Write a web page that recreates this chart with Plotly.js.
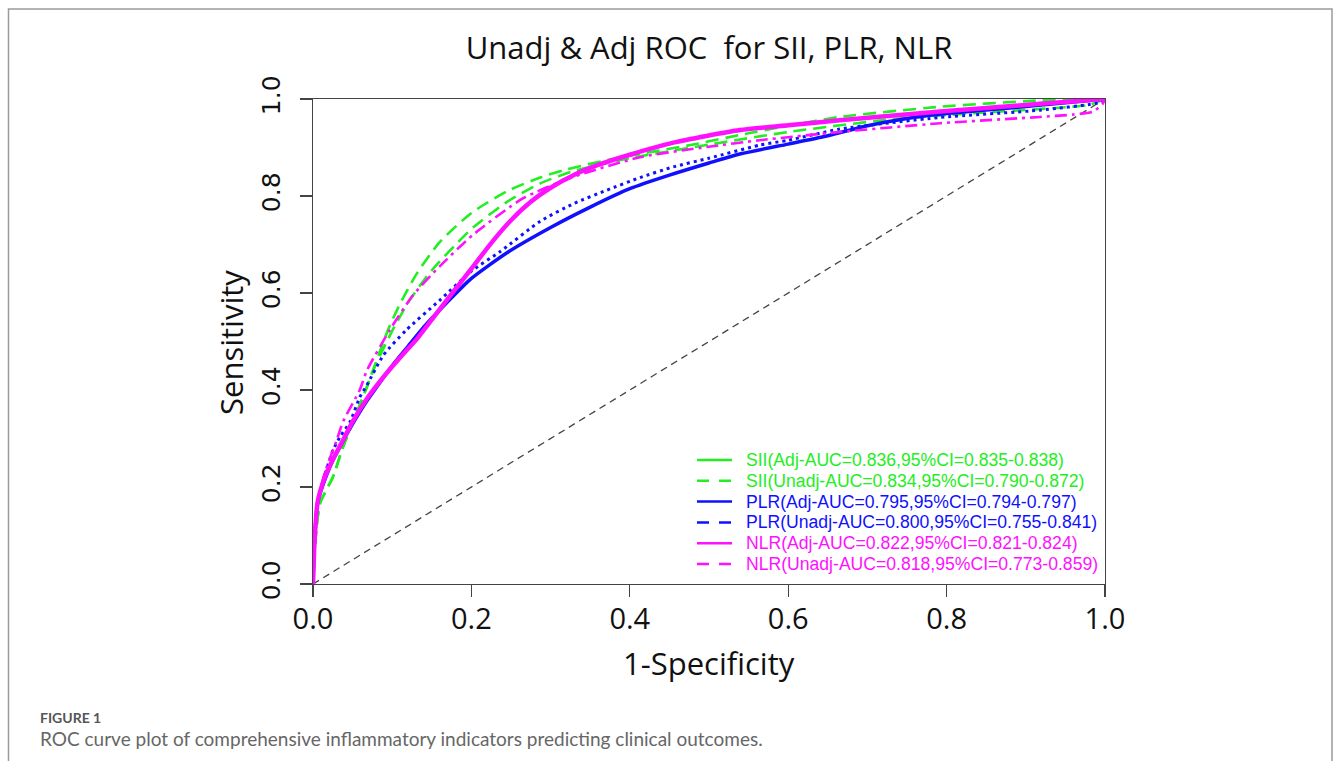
<!DOCTYPE html>
<html>
<head>
<meta charset="utf-8">
<script src="https://cdn.plot.ly/plotly-3.0.1.min.js"></script>
<style>html,body{margin:0;padding:0;background:#fff;}#chart{width:1333px;height:761px;}</style>
</head>
<body>
<div id="chart"></div>
<script>
// ---------- data ----------
const tickVals = [0, 0.2, 0.4, 0.6, 0.8, 1.0];
const tickLabels = ["0.0", "0.2", "0.4", "0.6", "0.8", "1.0"];

const diagX = [0, 1];
const diagY = [0, 1];

const siiAdjX = [0, 0.003, 0.009, 0.025, 0.038, 0.055, 0.068, 0.08, 0.095, 0.11, 0.131, 0.16, 0.2, 0.245, 0.287, 0.32, 0.39, 0.48, 0.539, 0.6, 0.665, 0.792, 0.918, 1];
const siiAdjY = [0, 0.09, 0.167, 0.22, 0.283, 0.352, 0.406, 0.46, 0.525, 0.578, 0.64, 0.705, 0.765, 0.81, 0.838, 0.855, 0.88, 0.906, 0.926, 0.945, 0.963, 0.984, 0.997, 1];

const siiUnadjX = [0, 0.003, 0.009, 0.025, 0.038, 0.055, 0.068, 0.08, 0.101, 0.12, 0.144, 0.16, 0.182, 0.202, 0.245, 0.287, 0.33, 0.4, 0.5, 0.6, 0.73, 0.855, 0.98, 1];
const siiUnadjY = [0, 0.09, 0.167, 0.22, 0.283, 0.352, 0.406, 0.455, 0.525, 0.58, 0.635, 0.665, 0.703, 0.735, 0.788, 0.826, 0.852, 0.878, 0.906, 0.932, 0.958, 0.973, 0.988, 1];

const plrAdjX = [0, 0.002, 0.006, 0.015, 0.025, 0.038, 0.05, 0.065, 0.08, 0.1, 0.12, 0.14, 0.16, 0.2, 0.245, 0.3, 0.35, 0.4, 0.45, 0.5, 0.54, 0.6, 0.644, 0.7, 0.75, 0.8, 0.876, 0.95, 1];
const plrAdjY = [0, 0.09, 0.17, 0.215, 0.255, 0.295, 0.33, 0.37, 0.405, 0.45, 0.49, 0.53, 0.565, 0.63, 0.683, 0.735, 0.777, 0.815, 0.843, 0.868, 0.887, 0.907, 0.922, 0.945, 0.96, 0.97, 0.981, 0.992, 1];

const plrUnadjX = [0, 0.002, 0.006, 0.015, 0.025, 0.034, 0.047, 0.059, 0.068, 0.089, 0.118, 0.16, 0.2, 0.236, 0.287, 0.33, 0.371, 0.413, 0.455, 0.5, 0.564, 0.6, 0.665, 0.792, 0.918, 0.994, 1];
const plrUnadjY = [0, 0.09, 0.17, 0.225, 0.275, 0.303, 0.335, 0.385, 0.41, 0.472, 0.524, 0.585, 0.645, 0.685, 0.748, 0.785, 0.812, 0.838, 0.86, 0.878, 0.905, 0.915, 0.938, 0.962, 0.977, 0.993, 1];

const nlrAdjX = [0, 0.002, 0.006, 0.015, 0.025, 0.038, 0.05, 0.068, 0.088, 0.11, 0.131, 0.15, 0.175, 0.2, 0.225, 0.25, 0.275, 0.3, 0.33, 0.36, 0.4, 0.455, 0.539, 0.6, 0.665, 0.792, 0.918, 1];
const nlrAdjY = [0, 0.09, 0.17, 0.22, 0.256, 0.297, 0.335, 0.382, 0.425, 0.467, 0.505, 0.545, 0.598, 0.65, 0.703, 0.75, 0.788, 0.817, 0.844, 0.864, 0.885, 0.91, 0.936, 0.946, 0.956, 0.974, 0.99, 1];

const nlrUnadjX = [0, 0.002, 0.006, 0.015, 0.03, 0.038, 0.059, 0.068, 0.097, 0.126, 0.16, 0.202, 0.265, 0.328, 0.413, 0.497, 0.564, 0.665, 0.792, 0.918, 0.96, 0.985, 0.997, 1];
const nlrUnadjY = [0, 0.09, 0.17, 0.23, 0.297, 0.335, 0.40, 0.44, 0.524, 0.595, 0.655, 0.72, 0.795, 0.839, 0.88, 0.901, 0.915, 0.932, 0.95, 0.963, 0.968, 0.974, 0.99, 1];

const legendLabels = [
  "SII(Adj-AUC=0.836,95%CI=0.835-0.838)",
  "SII(Unadj-AUC=0.834,95%CI=0.790-0.872)",
  "PLR(Adj-AUC=0.795,95%CI=0.794-0.797)",
  "PLR(Unadj-AUC=0.800,95%CI=0.755-0.841)",
  "NLR(Adj-AUC=0.822,95%CI=0.821-0.824)",
  "NLR(Unadj-AUC=0.818,95%CI=0.773-0.859)"
];
const legendColors = ["#22ee22", "#22ee22", "#1010ff", "#1010ff", "#ff10ff", "#ff10ff"];
const legendDash = ["solid", "12px,10px", "solid", "12px,10px", "solid", "12px,10px"];

const titleText = "Unadj &amp; Adj ROC&nbsp; for SII, PLR, NLR";
const xTitle = "1-Specificity";
const yTitle = "Sensitivity";
const figLabel = "FIGURE 1";
const figCaption = "ROC curve plot of comprehensive inflammatory indicators predicting clinical outcomes.";

// ---------- layout helpers ----------
const W = 1333, H = 761, L = 313, R = 1105, T = 99, B = 584;
const px2x = px => (px - L) / (R - L);
const py2y = py => (B - py) / (B - T);

const GREEN = "#22ee22", BLUE = "#1010ff", MAG = "#ff10ff";

const traces = [
  {x: diagX, y: diagY, mode: "lines", line: {color: "#444", width: 1.3, dash: "7px,5px"}},
  {x: siiAdjX, y: siiAdjY, mode: "lines", line: {color: GREEN, width: 2.6, dash: "13px,7px", shape: "spline", smoothing: 0.6}},
  {x: siiUnadjX, y: siiUnadjY, mode: "lines", line: {color: GREEN, width: 2.6, dash: "13px,7px", shape: "spline", smoothing: 0.6}},
  {x: plrUnadjX, y: plrUnadjY, mode: "lines", line: {color: BLUE, width: 3, dash: "3px,4px", shape: "spline", smoothing: 0.6}},
  {x: plrAdjX, y: plrAdjY, mode: "lines", line: {color: BLUE, width: 3.5, shape: "spline", smoothing: 0.6}},
  {x: nlrUnadjX, y: nlrUnadjY, mode: "lines", line: {color: MAG, width: 2.6, dash: "12px,5px,3px,5px", shape: "spline", smoothing: 0.6}},
  {x: nlrAdjX, y: nlrAdjY, mode: "lines", line: {color: MAG, width: 4.5, shape: "spline", smoothing: 0.6}}
].map(t => Object.assign(t, {type: "scatter", showlegend: false, hoverinfo: "skip"}));

const shapes = [];
const annotations = [];

// legend built from the legend arrays
legendLabels.forEach((lab, i) => {
  const rowY = 460 + i * 20.8;
  shapes.push({type: "line", xref: "paper", yref: "paper",
    x0: px2x(697), x1: px2x(732), y0: py2y(rowY), y1: py2y(rowY),
    line: {color: legendColors[i], width: 2.5, dash: legendDash[i]}});
  annotations.push({xref: "paper", yref: "paper", x: px2x(744), y: py2y(rowY),
    xanchor: "left", yanchor: "middle", showarrow: false, text: lab,
    font: {family: "Liberation Sans, Arial, sans-serif", size: 17.6, color: legendColors[i]}});
});

// axis titles
annotations.push({xref: "paper", yref: "paper", x: 0.5, y: py2y(663), xanchor: "center", yanchor: "middle",
  showarrow: false, text: xTitle, font: {family: "Open Sans", size: 31, color: "#111"}});
annotations.push({xref: "paper", yref: "paper", x: px2x(231), y: py2y(343), xanchor: "center", yanchor: "middle",
  textangle: -90, showarrow: false, text: yTitle, font: {family: "Open Sans", size: 31, color: "#111"}});

// caption
annotations.push({xref: "paper", yref: "paper", x: px2x(38), y: py2y(717), xanchor: "left", yanchor: "middle",
  showarrow: false, text: "<b>" + figLabel + "</b>", font: {family: "Lato", size: 14, color: "#555"}});
annotations.push({xref: "paper", yref: "paper", x: px2x(38), y: py2y(738), xanchor: "left", yanchor: "middle",
  showarrow: false, text: figCaption, font: {family: "Lato", size: 19, color: "#666"}});

// outer frame (open at the bottom)
const fl = px2x(8.5), fr = px2x(1332), ft = py2y(9), fb = py2y(800);
shapes.push({type: "path", xref: "paper", yref: "paper",
  path: `M ${fl} ${fb} L ${fl} ${ft} L ${fr} ${ft} L ${fr} ${fb}`,
  line: {color: "#9a9a9a", width: 1.5}});

const axisCommon = {
  range: [0, 1], showgrid: false, zeroline: false, showline: true, mirror: true,
  linecolor: "#444", linewidth: 1.3, ticks: "outside", ticklen: 12, tickwidth: 1.3, tickcolor: "#444",
  tickmode: "array", tickvals: tickVals, ticktext: tickLabels, fixedrange: true
};

const layout = {
  width: W, height: H,
  margin: {l: L, r: W - R, t: T, b: H - B, pad: 0},
  paper_bgcolor: "#fff", plot_bgcolor: "#fff",
  showlegend: false,
  title: {text: titleText, x: 0.5, xref: "paper", xanchor: "center", y: 1 - 48 / H, yref: "container", yanchor: "middle",
    font: {family: "Open Sans", size: 31, color: "#111"}},
  xaxis: Object.assign({}, axisCommon, {ticklabelstandoff: -3, tickfont: {family: "Open Sans", size: 29, color: "#111"}}),
  yaxis: Object.assign({}, axisCommon, {tickangle: -90, ticklabelstandoff: 10, tickfont: {family: "DejaVu Sans", size: 25, color: "#111"}}),
  shapes: shapes,
  annotations: annotations
};

Plotly.newPlot("chart", traces, layout, {staticPlot: true, displayModeBar: false});
</script>
</body>
</html>
